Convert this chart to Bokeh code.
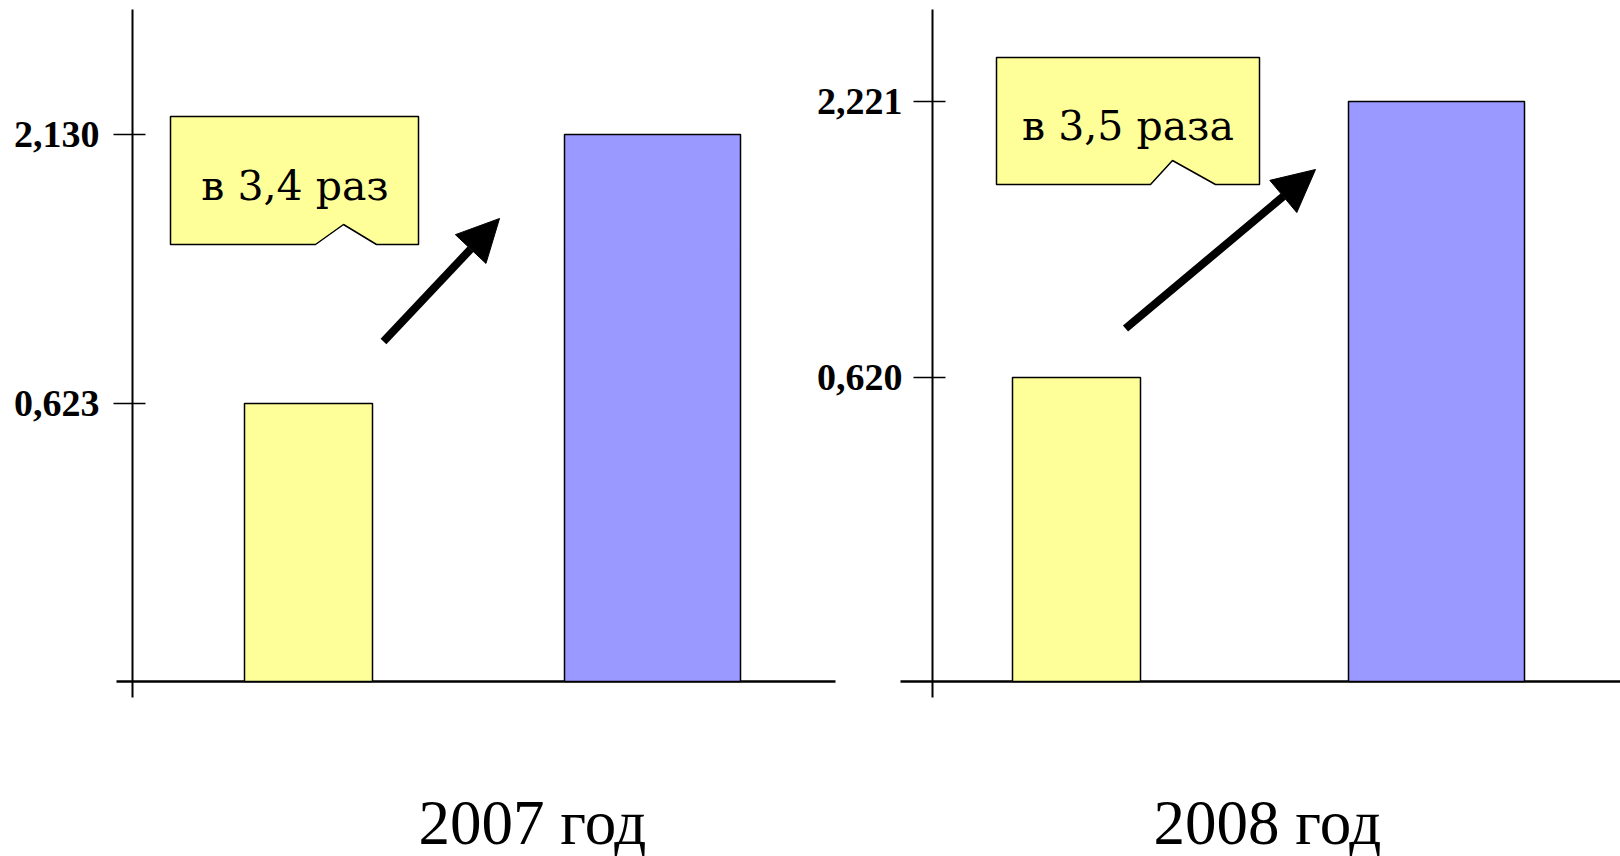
import math
from bokeh.plotting import figure
from bokeh.models import (Range1d, FixedTicker, CustomJSTickFormatter, Arrow, NormalHead,
                          LogAxis, LogScale)
from bokeh.core.properties import value
from bokeh.embed import file_html
from bokeh.resources import INLINE

# ---------------- data ----------------
years = ["2007 год", "2008 год"]
series_yellow = [0.623, 0.620]
series_blue = [2.130, 2.221]
ratio_labels = ["в 3,4 раз", "в 3,5 раза"]

YELLOW = "#FFFF99"
BLUE = "#9999FF"

# ---------------- layout (page pixels; the x range is expressed in the same units) ----------------
WIDTH, HEIGHT = 1620, 856
AXIS_TOP, AXIS_BOTTOM = 9, 697
BAR_WIDTHS = (128, 176)
TITLE_Y = 822          # anchor for the year captions
TEXT_SHIFT = 15        # correction for the svg text baseline

LAYOUT = [
    dict(range_name="default", axis_x=132, axis_end=835, label_standoff=14,
         tick_px=(403, 134), bar_x=(308, 652), baseline_px=681, stub=16,
         box=[(170, 116), (418, 116), (418, 244), (376, 244), (343, 224), (315, 244), (170, 244)],
         text_px=(294.5, 200), arrow=((383, 341), (499, 218)), title_x=532),
    dict(range_name="p2", axis_x=932, axis_end=WIDTH, label_standoff=-2,
         tick_px=(377, 101), bar_x=(1076, 1436), baseline_px=681, stub=32,
         box=[(996, 57), (1259, 57), (1259, 184), (1215, 184), (1172, 160), (1150, 184), (996, 184)],
         text_px=(1127.5, 140), arrow=((1125, 328), (1315, 169)), title_x=1267),
]


def y_mapper(vals, tick_px):
    b = (tick_px[0] - tick_px[1]) / (math.log10(vals[1]) - math.log10(vals[0]))

    def y_at(py):
        return 10 ** (math.log10(vals[0]) + (tick_px[0] - py) / b)
    return y_at


mappers = [y_mapper([series_yellow[i], series_blue[i]], LAYOUT[i]["tick_px"]) for i in range(2)]

p = figure(width=WIDTH, height=HEIGHT,
           x_range=Range1d(0, WIDTH),
           y_range=Range1d(mappers[0](HEIGHT), mappers[0](0)),
           y_axis_type="log", x_axis_location=None,
           output_backend="svg", toolbar_location=None,
           min_border_left=0, min_border_right=0, min_border_top=0, min_border_bottom=0)
p.extra_y_ranges = {"p2": Range1d(mappers[1](HEIGHT), mappers[1](0))}
p.extra_y_scales = {"p2": LogScale()}
p.xgrid.visible = False
p.ygrid.visible = False
p.outline_line_color = None
p.background_fill_color = "white"
p.border_fill_color = "white"

p.yaxis[0].fixed_location = LAYOUT[0]["axis_x"]
p.add_layout(LogAxis(y_range_name="p2", fixed_location=LAYOUT[1]["axis_x"]), "left")

fmt_code = "return tick.toFixed(3).replace('.', ',');"

for i, L in enumerate(LAYOUT):
    y_at = mappers[i]
    rn = L["range_name"]
    vals = [series_yellow[i], series_blue[i]]
    base = y_at(L["baseline_px"])

    ax = p.left[i]
    ax.ticker = FixedTicker(ticks=vals, minor_ticks=[base])
    ax.formatter = CustomJSTickFormatter(code=fmt_code)
    ax.axis_line_color = None
    ax.major_tick_in = 13
    ax.major_tick_out = 19
    ax.major_tick_line_width = 1.5
    ax.major_tick_line_color = "black"
    ax.minor_tick_in = 0
    ax.minor_tick_out = L["stub"]
    ax.minor_tick_line_width = 2.5
    ax.minor_tick_line_color = "black"
    ax.major_label_text_font = "Liberation Serif"
    ax.major_label_text_font_style = "bold"
    ax.major_label_text_font_size = "38px"
    ax.major_label_text_color = "black"
    ax.major_label_standoff = L["label_standoff"]

    # vertical axis line (ends a little below the baseline, as in the original)
    p.segment(x0=[L["axis_x"]], x1=[L["axis_x"]], y0=[y_at(AXIS_BOTTOM)], y1=[y_at(AXIS_TOP)],
              line_color="black", line_width=2, y_range_name=rn)
    # baseline
    p.segment(x0=[L["axis_x"]], x1=[L["axis_end"]], y0=[base], y1=[base],
              line_color="black", line_width=2.5, y_range_name=rn)

    # bars
    p.vbar(x=list(L["bar_x"]), top=vals, bottom=base, width=list(BAR_WIDTHS),
           fill_color=[YELLOW, BLUE], line_color="black", line_width=1.5, y_range_name=rn)

    # callout
    p.patch(x=[px for px, _ in L["box"]], y=[y_at(py) for _, py in L["box"]],
            fill_color=YELLOW, line_color="black", line_width=1.5, y_range_name=rn)
    p.text(x=[L["text_px"][0]], y=[y_at(L["text_px"][1] - TEXT_SHIFT)], text=[ratio_labels[i]],
           text_font=value("DejaVu Serif"), text_font_size="41px", text_color="black",
           text_align="center", text_baseline="alphabetic", y_range_name=rn)

    (ax_s, ay_s), (ax_e, ay_e) = L["arrow"]
    p.add_layout(Arrow(end=NormalHead(size=42, fill_color="black", line_color="black", line_width=1),
                       x_start=ax_s, y_start=y_at(ay_s), x_end=ax_e, y_end=y_at(ay_e),
                       line_width=8, line_color="black", y_range_name=rn))

    # year caption under each panel
    p.text(x=[L["title_x"]], y=[y_at(TITLE_Y)], text=[years[i]],
           text_font=value("Liberation Serif"), text_font_size="63px", text_color="black",
           text_align="center", text_baseline="alphabetic", y_range_name=rn)

open("out.html", "w").write(file_html(p, INLINE))
